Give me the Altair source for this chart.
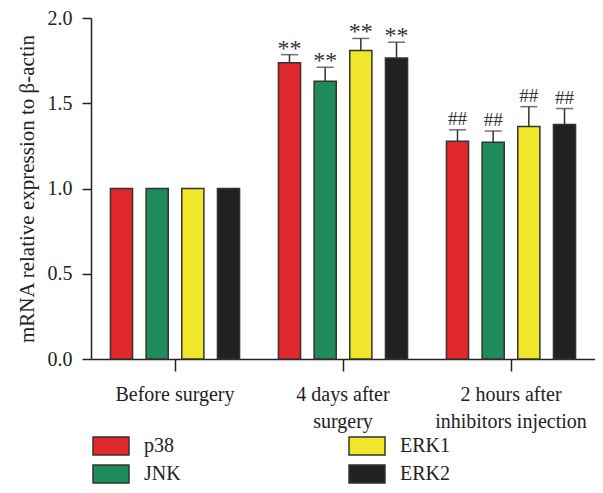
import altair as alt
import pandas as pd

groups = ["Before surgery", "4 days after surgery", "2 hours after inhibitors injection"]
group_lines = [["Before surgery"], ["4 days after", "surgery"], ["2 hours after", "inhibitors injection"]]
genes = ["p38", "JNK", "ERK1", "ERK2"]
colors = ["#E1282B", "#1F8B5A", "#F1E72A", "#212121"]

before_vals = [1.0, 1.0, 1.0, 1.0]
before_err = [0.0, 0.0, 0.0, 0.0]
days4_vals = [1.738, 1.629, 1.81, 1.765]
days4_err = [0.047, 0.082, 0.07, 0.093]
hours2_vals = [1.277, 1.271, 1.364, 1.376]
hours2_err = [0.067, 0.066, 0.116, 0.093]
sig_marks = ["", "**", "##"]

rows = []
for g, vals, errs, s in zip(groups, [before_vals, days4_vals, hours2_vals],
                            [before_err, days4_err, hours2_err], sig_marks):
    for gene, v, e in zip(genes, vals, errs):
        rows.append({"group": g, "gene": gene, "value": v, "err": e,
                     "upper": v + e, "sig": s})
df = pd.DataFrame(rows)

label_expr = ""
for g, lines in zip(groups[:-1], group_lines[:-1]):
    label_expr += f"datum.value == '{g}' ? {lines!r} : "
label_expr += repr(group_lines[-1])

FONT = "Liberation Serif"
INK = "#222222"

x_enc = alt.X("group:N", sort=groups,
              scale=alt.Scale(domain=groups, paddingInner=0, paddingOuter=0),
              axis=alt.Axis(title=None, labelAngle=0, labelExpr=label_expr,
                            tickSize=12, tickWidth=1.5, domainWidth=1.5,
                            domainColor=INK, tickColor=INK,
                            labelPadding=13, labelFontSize=20, labelLineHeight=27,
                            labelFont=FONT, labelColor=INK, labelBaseline="top"))
xo_enc = alt.XOffset("gene:N", sort=genes,
                     scale=alt.Scale(domain=genes, paddingInner=0.38, paddingOuter=0.545))

bars = alt.Chart(df).mark_bar(stroke="#333", strokeWidth=1.5).encode(
    x=x_enc,
    xOffset=xo_enc,
    y=alt.Y("value:Q", scale=alt.Scale(domain=[0, 2], nice=False),
            axis=alt.Axis(values=[0, 0.5, 1, 1.5, 2], format=".1f", tickSize=9,
                          tickWidth=1.5, domainWidth=1.5, domainColor=INK,
                          tickColor=INK, labelPadding=10, labelFontSize=20,
                          labelFont=FONT, labelColor=INK, grid=False,
                          title="mRNA relative expression to β-actin",
                          titleFont=FONT, titleFontSize=21, titleFontWeight="normal",
                          titleColor=INK, titlePadding=10)),
    color=alt.Color("gene:N",
                    scale=alt.Scale(domain=genes, range=colors),
                    legend=alt.Legend(orient="none", legendX=10, legendY=418,
                                      columns=2, title=None, padding=0,
                                      symbolType="M-2,-1L2,-1L2,1L-2,1Z",
                                      symbolSize=324, symbolStrokeColor="#333",
                                      symbolStrokeWidth=1.5, symbolOpacity=1,
                                      labelFont=FONT, labelFontSize=20,
                                      labelColor=INK, labelOffset=23,
                                      columnPadding=165, rowPadding=4)),
)

err_df = df[df["err"] > 0]
stems = alt.Chart(err_df).mark_rule(color="#333", strokeWidth=1.5).encode(
    x=x_enc, xOffset=xo_enc, y="value:Q", y2="upper:Q")
caps = alt.Chart(err_df).mark_tick(color="#333", thickness=1.5, size=17, orient="horizontal").encode(
    x=x_enc, xOffset=xo_enc, y="upper:Q")
stars = alt.Chart(err_df).transform_filter(alt.datum.sig == "**").mark_text(
    font=FONT, fontSize=24, color="#333", baseline="alphabetic", dy=1).encode(
    x=x_enc, xOffset=xo_enc, y="upper:Q", text="sig:N")
hashes = alt.Chart(err_df).transform_filter(alt.datum.sig == "##").mark_text(
    font=FONT, fontSize=19, color="#333", baseline="alphabetic", dy=-5).encode(
    x=x_enc, xOffset=xo_enc, y="upper:Q", text="sig:N")

chart = alt.layer(bars, stems, caps, stars, hashes).properties(
    width=504, height=341,
    autosize=alt.AutoSizeParams(type="none"),
    padding={"left": 83, "top": 10, "right": 0, "bottom": 126},
).configure_view(stroke=None)

chart.save("out.html", embed_options={"renderer": "svg", "actions": False})
